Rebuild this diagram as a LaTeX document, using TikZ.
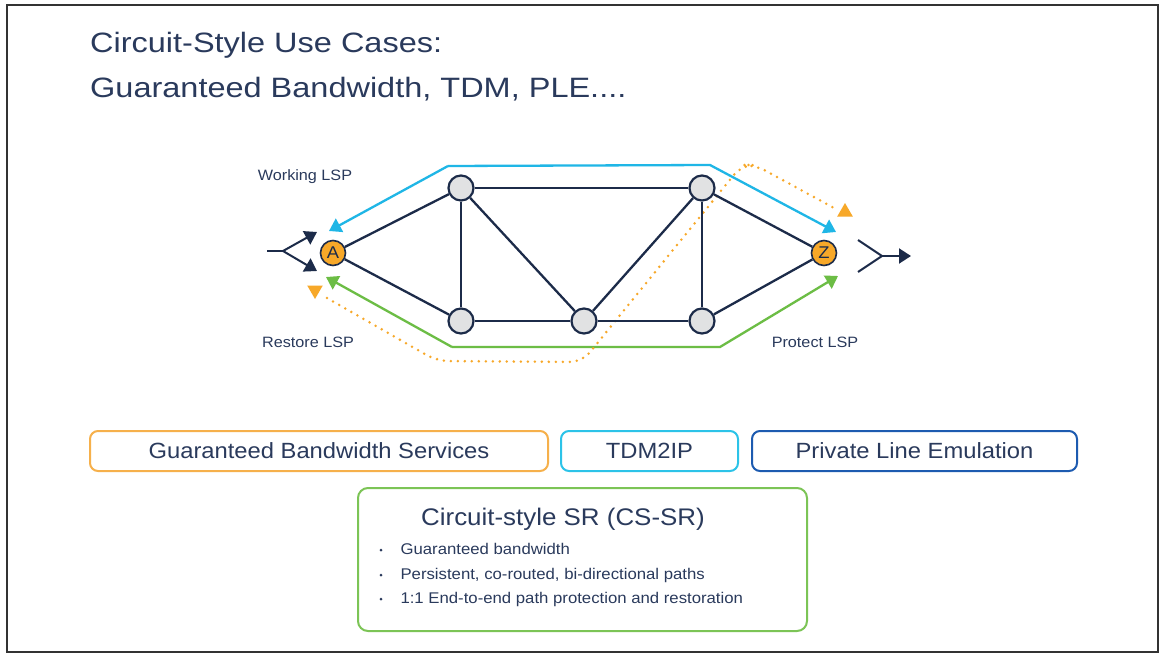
\documentclass[tikz,border=0pt]{standalone}
\usepackage{fontspec}
\setmainfont[FakeStretch=1.08]{Liberation Sans}
\newfontfamily\titlefont[FakeStretch=1.16]{Liberation Sans}
\usetikzlibrary{arrows.meta,shapes.geometric}
\definecolor{navy}{HTML}{1C2B49}
\definecolor{txt}{HTML}{2A3A5C}
\definecolor{ornode}{HTML}{F7A829}
\definecolor{orline}{HTML}{F7A829}
\definecolor{blueline}{HTML}{1FB6E6}
\definecolor{greenline}{HTML}{6CBD45}
\definecolor{nodegray}{HTML}{E1E2E3}
\definecolor{boxorange}{HTML}{F6B04B}
\definecolor{boxcyan}{HTML}{2CC3E8}
\definecolor{boxblue}{HTML}{1D5BB0}
\definecolor{boxgreen}{HTML}{7CC456}
\tikzset{
  router/.style={circle, draw=navy, line width=2.2pt, fill=nodegray, minimum size=25pt, inner sep=0pt},
  endpt/.style={circle, draw=navy, line width=1.6pt, fill=ornode, minimum size=25pt, inner sep=0pt, font=\fontsize{17}{17}\selectfont, text=navy},
  link/.style={draw=navy, line width=2.3pt},
  lsp/.style={line width=2.3pt, -{Triangle[length=12pt,width=15pt]}},
  restore/.style={draw=orline, line width=2.8pt, dash pattern=on 0pt off 7pt, line cap=round, rounded corners=12pt},
  tri/.style={regular polygon, regular polygon sides=3, fill=orline, inner sep=0pt, minimum size=18pt},
  lbl/.style={text=txt, font=\fontsize{15}{15}\selectfont},
  svcbox/.style={draw, line width=2pt, rounded corners=8pt, text=txt, font=\fontsize{22}{22}\selectfont, minimum height=40pt, inner sep=0pt},
  split/.style={draw=navy, line width=2pt},
  splitarrow/.style={draw=navy, line width=2pt, -{Triangle[length=12pt,width=15pt]}},
  bul/.style={text=txt, font=\fontsize{15.5}{15.5}\selectfont, anchor=base west},
}
\begin{document}
\begin{tikzpicture}[x=1pt,y=-1pt]
\useasboundingbox (0,0) rectangle (1160,653);
\fill[white] (0,0) rectangle (1160,653);
\node[draw=black!80, line width=2pt, minimum width=1151pt, minimum height=647pt, anchor=north west, inner sep=0pt] (frame) at (6,4) {};

% title
\node[anchor=base west, text=txt, font=\titlefont\fontsize{28}{28}\selectfont, inner sep=0pt] (t1) at (90,52) {Circuit-Style Use Cases:};
\node[anchor=base west, text=txt, font=\titlefont\fontsize{28}{28}\selectfont, inner sep=0pt] (t2) at (90,97) {Guaranteed Bandwidth, TDM, PLE....};

% LSP paths (behind)
\coordinate (bw1) at (448,166);
\coordinate (bw2) at (710,165);
\coordinate (bwA) at (329,231);
\coordinate (bwZ) at (836,232);
\draw[lsp, draw=blueline] (bw1) -- (bwA);
\draw[lsp, draw=blueline] (bw1) -- (bw2) -- (bwZ);

\coordinate (gp1) at (452,347);
\coordinate (gp2) at (720,347);
\coordinate (gpA) at (326,277);
\coordinate (gpZ) at (838,276);
\draw[lsp, draw=greenline] (gp1) -- (gpA);
\draw[lsp, draw=greenline] (gp1) -- (gp2) -- (gpZ);

\coordinate (rs0) at (327,298);
\coordinate (rs1) at (437,361);
\coordinate (rs2) at (582,362);
\coordinate (rs3) at (742,165);
\coordinate (rs4) at (755,165);
\coordinate (rs5) at (834,208);
\draw[restore] (rs0) -- (rs1) -- (rs2) -- (rs3) -- (rs4) -- (rs5);
\node[tri, shape border rotate=180] (trA) at (315,290) {};
\node[tri] (trZ) at (845,212) {};

% network nodes
\node[endpt] (A) at (333,253) {A};
\node[endpt] (Z) at (824,253) {Z};
\node[router] (n1) at (461,188) {};
\node[router] (n2) at (702,188) {};
\node[router] (n3) at (461,321) {};
\node[router] (n4) at (584,321) {};
\node[router] (n5) at (702,321) {};

\draw[link] (A) -- (n1);
\draw[link] (A) -- (n3);
\draw[link] (n1) -- (n2);
\draw[link] (n1) -- (n3);
\draw[link] (n1) -- (n4);
\draw[link] (n3) -- (n4);
\draw[link] (n4) -- (n5);
\draw[link] (n4) -- (n2);
\draw[link] (n2) -- (n5);
\draw[link] (n2) -- (Z);
\draw[link] (n5) -- (Z);

% splitters
\coordinate (ls0) at (267,251);
\coordinate (ls1) at (283,251);
\coordinate (lsU) at (317,232);
\coordinate (lsD) at (317,271);
\draw[split] (ls0) -- (ls1);
\draw[splitarrow] (ls1) -- (lsU);
\draw[splitarrow] (ls1) -- (lsD);

\coordinate (rsU) at (858,240);
\coordinate (rsD) at (858,272);
\coordinate (rsM) at (882,256);
\coordinate (rsE) at (911,256);
\draw[split] (rsU) -- (rsM) -- (rsD);
\draw[splitarrow] (rsM) -- (rsE);

% LSP labels
\node[lbl] (lw) at (305,177) {Working LSP};
\node[lbl] (lr) at (308,342) {Restore LSP};
\node[lbl] (lp) at (815,342) {Protect LSP};

% service boxes
\node[svcbox, draw=boxorange, minimum width=458pt] (gbs) at (319,451) {Guaranteed Bandwidth Services};
\node[svcbox, draw=boxcyan, minimum width=177pt] (tdm) at (649.5,451) {TDM2IP};
\node[svcbox, draw=boxblue, minimum width=325pt] (ple) at (914.5,451) {Private Line Emulation};

% CS-SR box
\node[draw=boxgreen, line width=2pt, rounded corners=10pt, minimum width=449pt, minimum height=143pt, inner sep=0pt] (cssr) at (582.5,559.5) {};
\node[text=txt, font=\fontsize{24}{24}\selectfont] (cst) at (563,519) {Circuit-style SR (CS-SR)};
\node[bul] (b1) at (397,554.5) {Guaranteed bandwidth};
\node[bul] (b2) at (397,579.5) {Persistent, co-routed, bi-directional paths};
\node[bul] (b3) at (397,603.5) {1:1 End-to-end path protection and restoration};
\fill[txt] (381,550) circle (1.5pt) (381,575) circle (1.5pt) (381,599) circle (1.5pt);
\end{tikzpicture}
\end{document}
